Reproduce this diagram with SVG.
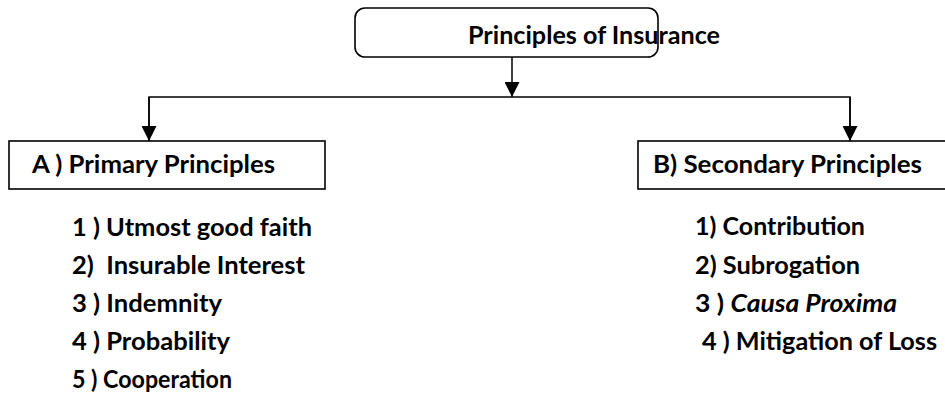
<svg xmlns="http://www.w3.org/2000/svg" width="945" height="395" viewBox="0 0 945 395">
  <defs>
    <marker id="arrow" viewBox="0 0 10 10" refX="10" refY="5" markerWidth="15" markerHeight="15" markerUnits="userSpaceOnUse" orient="auto">
      <path d="M0,0 L10,5 L0,10 z" fill="#000"/>
    </marker>
    <style>
      .box { fill: #fff; stroke: #000; stroke-width: 1.6; }
      .edge { fill: none; stroke: #000; stroke-width: 1.5; }
      text { font-family: "Lato", "Liberation Sans", sans-serif; font-weight: bold; font-size: 24px; fill: #000; }
    </style>
  </defs>
  <rect width="945" height="395" fill="#fff"/>

  <g id="connectors">
    <line class="edge" x1="512" y1="57" x2="512" y2="97" marker-end="url(#arrow)"/>
    <polyline class="edge" points="149,141 149,97 850,97 850,141"/>
    <line class="edge" x1="149" y1="97" x2="149" y2="141" marker-end="url(#arrow)"/>
    <line class="edge" x1="850" y1="97" x2="850" y2="141" marker-end="url(#arrow)"/>
  </g>

  <g id="root">
    <rect class="box" x="355" y="8" width="303" height="49" rx="10" ry="10"/>
    <text x="468" y="44" textLength="252" lengthAdjust="spacingAndGlyphs">Principles of Insurance</text>
  </g>

  <g id="primary">
    <rect class="box" x="9" y="141" width="316" height="48"/>
    <text x="32" y="173" textLength="243" lengthAdjust="spacingAndGlyphs">A ) Primary Principles</text>
  </g>

  <g id="secondary">
    <rect class="box" x="638" y="141" width="312" height="48"/>
    <text x="653" y="173" textLength="269" lengthAdjust="spacingAndGlyphs">B) Secondary Principles</text>
  </g>

  <g id="primary-list">
    <text x="72" y="236" textLength="240" lengthAdjust="spacingAndGlyphs">1 ) Utmost good faith</text>
    <text x="72" y="274" textLength="233" lengthAdjust="spacingAndGlyphs" xml:space="preserve">2)  Insurable Interest</text>
    <text x="72" y="312" textLength="150" lengthAdjust="spacingAndGlyphs">3 ) Indemnity</text>
    <text x="72" y="350" textLength="158" lengthAdjust="spacingAndGlyphs">4 ) Probability</text>
    <text x="72" y="388" textLength="160" lengthAdjust="spacingAndGlyphs">5 ) Cooperation</text>
  </g>

  <g id="secondary-list">
    <text x="695" y="235" textLength="170" lengthAdjust="spacingAndGlyphs">1) Contribution</text>
    <text x="695" y="274" textLength="165" lengthAdjust="spacingAndGlyphs">2) Subrogation</text>
    <text x="695" y="312" textLength="202" lengthAdjust="spacingAndGlyphs">3 ) <tspan font-style="italic">Causa Proxima</tspan></text>
    <text x="702" y="350" textLength="235" lengthAdjust="spacingAndGlyphs">4 ) Mitigation of Loss</text>
  </g>
</svg>
